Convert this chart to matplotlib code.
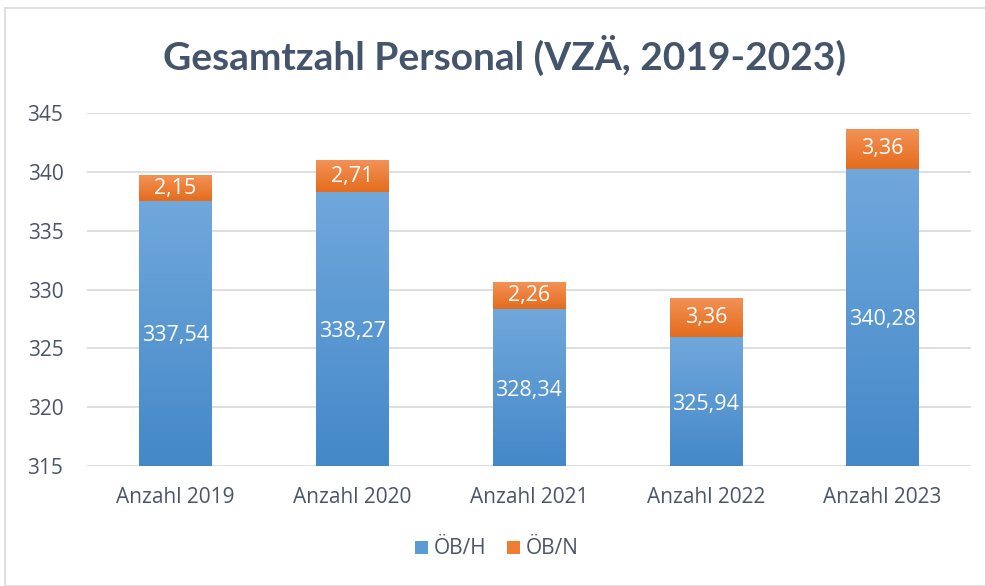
import numpy as np
import matplotlib
matplotlib.use("Agg")
import matplotlib.pyplot as plt
from matplotlib.patches import Rectangle
from matplotlib.colors import LinearSegmentedColormap

categories = ["Anzahl 2019", "Anzahl 2020", "Anzahl 2021", "Anzahl 2022", "Anzahl 2023"]
oeb_h = [337.54, 338.27, 328.34, 325.94, 340.28]
oeb_n = [2.15, 2.71, 2.26, 3.36, 3.36]
series_names = ["ÖB/H", "ÖB/N"]
title = "Gesamtzahl Personal (VZÄ, 2019-2023)"
y_min, y_max, y_step = 315, 345, 5

def fmt(v):
    return f"{v:.2f}".replace(".", ",")

plt.rcParams['font.family'] = ['Open Sans', 'DejaVu Sans']
text_col = "#4A5568"

fig = plt.figure(figsize=(9.85, 5.86), dpi=100)
fig.patches.append(Rectangle((5/985, 0), 1, 1 - 8/586, transform=fig.transFigure,
                             fill=False, edgecolor="#D9D9D9", linewidth=1.2))
ax = fig.add_axes([87/985, 1 - 466/586, (971-87)/985, (466-113)/586])

x = np.arange(len(categories))
width = 0.41
bottoms = np.full(len(x), y_min, dtype=float)
h_vals = np.array(oeb_h) - y_min
bars_h = ax.bar(x, h_vals, width, bottom=bottoms, color="#5B9BD5", label=series_names[0], zorder=2)
bars_n = ax.bar(x, oeb_n, width, bottom=np.array(oeb_h), color="#ED7D31", label=series_names[1], zorder=2)

cmap_h = LinearSegmentedColormap.from_list("h", ["#4488C8", "#70A8DC"])
cmap_n = LinearSegmentedColormap.from_list("n", ["#E46C1C", "#F39257"])
grad = np.linspace(0, 1, 256).reshape(-1, 1)
for bars, cmap in ((bars_h, cmap_h), (bars_n, cmap_n)):
    for p in bars:
        x0, y0 = p.get_x(), p.get_y()
        w, h = p.get_width(), p.get_height()
        im = ax.imshow(grad, cmap=cmap, origin="lower", aspect="auto",
                       extent=[x0, x0 + w, y0, y0 + h], zorder=2.5)
        im.set_clip_path(p)

for i, p in enumerate(bars_h):
    ax.text(p.get_x() + p.get_width()/2, (y_min + oeb_h[i]) / 2, fmt(oeb_h[i]),
            ha="center", va="center_baseline", color="white", fontsize=15.5, zorder=3)
for i, p in enumerate(bars_n):
    ax.text(p.get_x() + p.get_width()/2, oeb_h[i] + oeb_n[i]/2, fmt(oeb_n[i]),
            ha="center", va="center", color="white", fontsize=15.5, zorder=3)

ax.set_xlim(-0.5, len(x) - 0.5)
ax.set_ylim(y_min, y_max)
ax.set_yticks(np.arange(y_min, y_max + 1, y_step))
ax.set_xticks(x)
ax.set_xticklabels(categories)
ax.tick_params(axis="both", length=0, labelsize=15, colors=text_col)
ax.tick_params(axis="y", pad=17)
ax.tick_params(axis="x", pad=15)
ax.grid(axis="y", color="#D9D9D9", linewidth=1.2, zorder=0)
ax.set_axisbelow(True)
for s in ax.spines.values():
    s.set_visible(False)

fig.text(505/985, 1 - 55/586, title, ha="center", va="center", family=['Lato', 'DejaVu Sans'],
         fontsize=28, fontweight="bold", color="#44546A")

leg = fig.legend(handles=[bars_h, bars_n], labels=series_names, loc="center",
                 bbox_to_anchor=(497/985, 1 - 549/586), ncol=2, frameon=False,
                 fontsize=15, handlelength=0.6, handleheight=0.6, handletextpad=0.3,
                 columnspacing=1.0)
for t in leg.get_texts():
    t.set_color(text_col)
leg.legend_handles[0].set_facecolor("#5B9BD5")
leg.legend_handles[1].set_facecolor("#ED7D31")

fig.savefig("out.png", dpi=100)
